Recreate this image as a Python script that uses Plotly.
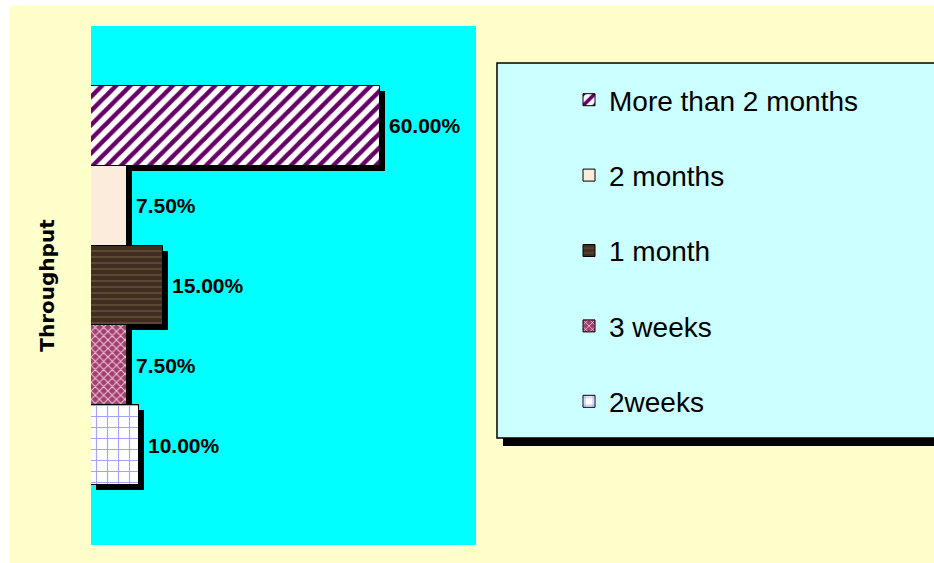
import plotly.graph_objects as go

# ---- data ----
categories = ["More than 2 months", "2 months", "1 month", "3 weeks", "2weeks"]
values = [60.0, 7.5, 15.0, 7.5, 10.0]
axis_title = "Throughput"

# ---- styles ----
W, H = 934, 563
L, R, T, B = 91, 458, 26, 18
pw, ph = W - L - R, H - T - B
x_range = [0, 80]
y_range = [-1.25, 5.25]

styles = {
    "More than 2 months": dict(color="#660066", pattern=dict(shape="/", fgcolor="#660066", bgcolor="#FFFFFF", size=10, solidity=0.45, fillmode="replace")),
    "2 months": dict(color="#FBECDC", pattern=None),
    "1 month": dict(color="#4A3626", pattern=dict(shape="-", fgcolor="#5C4634", bgcolor="#3F2D1F", size=6, solidity=0.35, fillmode="replace")),
    "3 weeks": dict(color="#993366", pattern=dict(shape="x", fgcolor="#F0C8DA", bgcolor="#A23F6E", size=6, solidity=0.3, fillmode="replace")),
    "2weeks": dict(color="#A0A0FF", pattern=dict(shape="+", fgcolor="#A4A4FF", bgcolor="#FFFFFF", size=11, solidity=0.2, fillmode="replace")),
}

# shadow offsets (pixels -> data units)
sh_px = 5
sh_dx = sh_px * (x_range[1] - x_range[0]) / pw
sh_dy = sh_px * (y_range[1] - y_range[0]) / ph

fig = go.Figure()

# shadows
fig.add_trace(go.Bar(
    y=categories, x=values, base=[sh_dx] * len(values), orientation="h",
    width=1, offset=-0.5 - sh_dy,
    marker=dict(color="#000000", line=dict(width=0)),
    showlegend=False, hoverinfo="skip",
))

for cat, val in zip(categories, values):
    st = styles[cat]
    marker = dict(color=st["color"], line=dict(color="#000000", width=1))
    if st["pattern"]:
        marker["pattern"] = st["pattern"]
    fig.add_trace(go.Bar(
        y=[cat], x=[val], orientation="h", width=1, name=cat,
        legendgroup=cat, marker=marker,
    ))

# value labels
for cat, val in zip(categories, values):
    fig.add_annotation(
        x=val + sh_dx, y=cat, xref="x", yref="y", text=f"{val:.2f}%",
        showarrow=False, xanchor="left", yanchor="middle", xshift=2,
        font=dict(family="Liberation Sans, Arial", size=21, color="#000000", weight="bold"),
    )

def px_x(p):
    return (p - L) / pw

def px_y(p):
    return (H - B - p) / ph

shapes = [
    # outer yellow area
    dict(type="rect", xref="paper", yref="paper", x0=px_x(9), x1=px_x(W + 20), y0=px_y(H + 20), y1=px_y(6),
         fillcolor="#FFFFCC", line=dict(width=0), layer="below"),
    # plot area
    dict(type="rect", xref="paper", yref="paper", x0=0, x1=1, y0=0, y1=1,
         fillcolor="#00FFFF", line=dict(width=0), layer="below"),
    # legend shadow
    dict(type="rect", xref="paper", yref="paper", x0=px_x(503), x1=px_x(W + 20), y0=px_y(446), y1=px_y(70),
         fillcolor="#000000", line=dict(width=0), layer="below"),
    # legend box
    dict(type="rect", xref="paper", yref="paper", x0=px_x(497), x1=px_x(W + 20), y0=px_y(438), y1=px_y(63),
         fillcolor="#CCFFFF", line=dict(color="#000000", width=1.5), layer="below"),
]

fig.update_layout(
    width=W, height=H,
    margin=dict(l=L, r=R, t=T, b=B, autoexpand=False),
    paper_bgcolor="#FFFFFF", plot_bgcolor="rgba(0,0,0,0)",
    barmode="overlay", bargap=0,
    shapes=shapes,
    showlegend=True,
    legend=dict(
        x=px_x(569), y=px_y(75), xanchor="left", yanchor="top",
        bgcolor="rgba(0,0,0,0)", borderwidth=0,
        traceorder="grouped", tracegroupgap=36,
        font=dict(family="Liberation Sans, Arial", size=28, color="#000000"),
    ),
    xaxis=dict(range=x_range, showgrid=False, zeroline=False, showticklabels=False,
               ticks="", showline=False, fixedrange=True),
    yaxis=dict(type="category", categoryorder="array", categoryarray=categories[::-1],
               range=y_range, showgrid=False, zeroline=False, showticklabels=False,
               ticks="", showline=False,
               title=dict(text=axis_title, standoff=30,
                          font=dict(family="DejaVu Sans", size=20, color="#000000", weight="bold"))),
)

fig.write_html("out.html")
